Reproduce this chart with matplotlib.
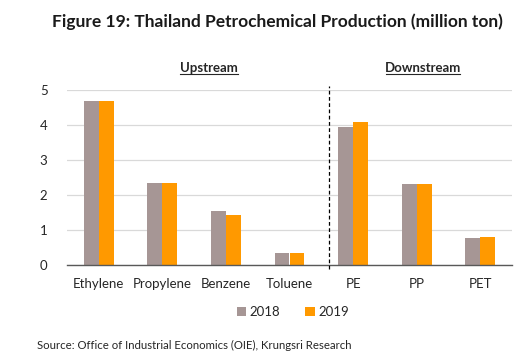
import matplotlib
matplotlib.use("Agg")
import matplotlib.pyplot as plt
import numpy as np

categories = ["Ethylene", "Propylene", "Benzene", "Toluene", "PE", "PP", "PET"]
v2018 = [4.70, 2.34, 1.55, 0.35, 3.94, 2.32, 0.77]
v2019 = [4.70, 2.34, 1.43, 0.35, 4.09, 2.32, 0.80]
series_labels = ["2018", "2019"]
yticks = [0, 1, 2, 3, 4, 5]

plt.rcParams['font.family'] = ['Lato', 'DejaVu Sans']

W, H = 526, 360
fig = plt.figure(figsize=(W/100, H/100), dpi=100)
ax = fig.add_axes([67/W, 1-265/H, (512-67)/W, (265-90)/H])

x = np.arange(len(categories))
bw = 0.235
c18 = "#A69695"
c19 = "#FF9900"
ax.bar(x - bw/2, v2018, bw, color=c18, label=series_labels[0], zorder=3)
ax.bar(x + bw/2, v2019, bw, color=c19, label=series_labels[1], zorder=3)

ax.set_xlim(-0.5, len(categories) - 0.5)
ax.set_ylim(0, 5)
ax.set_yticks(yticks)
ax.set_yticklabels([str(t) for t in yticks], fontsize=9.5, color="#262626")
ax.set_xticks(x)
ax.set_xticklabels(categories, fontsize=9.5, color="#262626")
ax.tick_params(axis='both', length=0)
ax.tick_params(axis='y', pad=14)
ax.tick_params(axis='x', pad=9)
ax.grid(axis='y', color="#D9D9D9", linewidth=0.9, zorder=0)
for s in ["top", "right", "left"]:
    ax.spines[s].set_visible(False)
ax.spines["bottom"].set_color("#595959")
ax.spines["bottom"].set_linewidth(1.0)
ax.spines["bottom"].set_zorder(4)

# dashed separator
ax.plot([3.625, 3.625], [-0.12, 5.12], ls=(0, (3, 2)), color="black", lw=0.9,
        clip_on=False, zorder=5)

ax.text(1.73, 5.63, "Upstream", ha="center", va="center", fontsize=9.5,
        fontweight="bold", color="#262626")
ax.plot([1.73 - 0.46, 1.73 + 0.46], [5.46, 5.46], color="#262626", lw=0.8, clip_on=False)
ax.text(5.1, 5.63, "Downstream", ha="center", va="center", fontsize=9.5,
        fontweight="bold", color="#262626")
ax.plot([5.1 - 0.585, 5.1 + 0.585], [5.46, 5.46], color="#262626", lw=0.8, clip_on=False)

fig.text(277/W, 1-22/H, "Figure 19: Thailand Petrochemical Production (million ton)",
         ha="center", va="center", fontsize=12.5, fontweight="bold", color="#1a1a1a")

leg = fig.legend(loc="center", bbox_to_anchor=(293/W, 1-312/H), ncol=2, frameon=False,
                 fontsize=9.5, handlelength=0.7, handleheight=0.7, handletextpad=0.3,
                 columnspacing=1.9)
for t in leg.get_texts():
    t.set_color("#262626")

fig.text(37/W, 1-345/H, "Source: Office of Industrial Economics (OIE), Krungsri Research",
         ha="left", va="center", fontsize=8.2, color="#262626")

fig.savefig("out.png", dpi=100)
